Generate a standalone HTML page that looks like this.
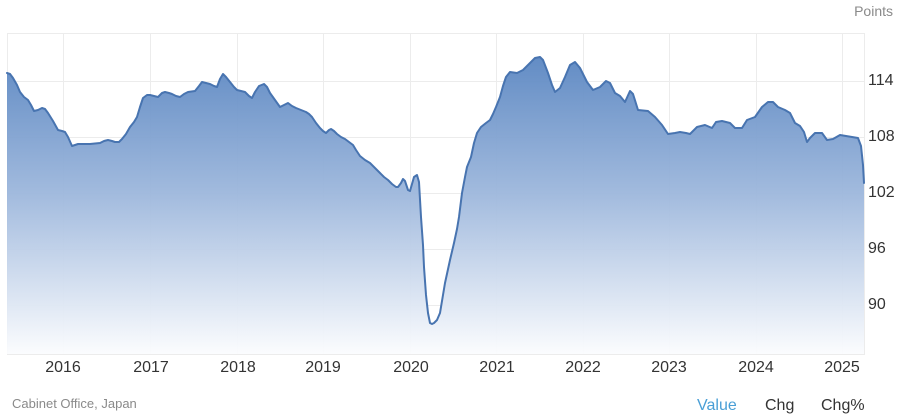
<!DOCTYPE html>
<html>
<head>
<meta charset="utf-8">
<style>
  html, body { margin:0; padding:0; background:#fff; }
  body { width:900px; height:420px; overflow:hidden; }
  svg { display:block; }
  text { font-family: "Liberation Sans", Arial, sans-serif; }
</style>
</head>
<body>
<svg width="900" height="420" viewBox="0 0 900 420" xmlns="http://www.w3.org/2000/svg">
  <defs>
    <linearGradient id="fill" x1="0" y1="34" x2="0" y2="354" gradientUnits="userSpaceOnUse">
      <stop offset="0" stop-color="#4f7ebd"/>
      <stop offset="0.5" stop-color="#9db7dc"/>
      <stop offset="1" stop-color="#fbfcfe"/>
    </linearGradient>
  </defs>

  <!-- plot border -->
  <rect x="7.5" y="33.5" width="857" height="321" fill="#fff" stroke="#ececec" stroke-width="1"/>

  <!-- horizontal grid -->
  <g stroke="#ececec" stroke-width="1">
    <line x1="7" y1="81.5" x2="864" y2="81.5"/>
    <line x1="7" y1="137.5" x2="864" y2="137.5"/>
    <line x1="7" y1="193.5" x2="864" y2="193.5"/>
    <line x1="7" y1="249.5" x2="864" y2="249.5"/>
    <line x1="7" y1="305.5" x2="864" y2="305.5"/>
  </g>
  <!-- vertical grid -->
  <g stroke="#ececec" stroke-width="1">
    <line x1="63.5" y1="34" x2="63.5" y2="354"/>
    <line x1="150.5" y1="34" x2="150.5" y2="354"/>
    <line x1="237.5" y1="34" x2="237.5" y2="354"/>
    <line x1="323.5" y1="34" x2="323.5" y2="354"/>
    <line x1="410.5" y1="34" x2="410.5" y2="354"/>
    <line x1="496.5" y1="34" x2="496.5" y2="354"/>
    <line x1="583.5" y1="34" x2="583.5" y2="354"/>
    <line x1="669.5" y1="34" x2="669.5" y2="354"/>
    <line x1="756.5" y1="34" x2="756.5" y2="354"/>
    <line x1="842.5" y1="34" x2="842.5" y2="354"/>
  </g>

  <!-- area -->
  <polygon fill="url(#fill)" opacity="0.95" points="7,354 7,73 10,74 13,78 17,85 20,92 24,97 28,100 31,105 34,111 38,110 42,108 45,109 48,113 53,121 58,130 62,131 65,132 68,137 72,146 75,145 78,144 90,144 100,143 104,141 108,140 112,141 115,142 119,142 122,139 126,134 130,127 134,122 137,117 140,107 143,98 147,95 150,95 154,96 158,97 162,93 165,92 169,93 172,94 176,96 180,97 184,94 188,92 195,91 199,86 202,82 206,83 210,84 214,86 217,87 220,79 223,74 226,77 230,82 234,87 237,90 241,91 245,92 249,96 252,98 255,92 259,86 264,84 267,87 270,93 275,100 280,107 284,105 288,103 292,106 296,108 301,110 306,112 309,114 312,117 316,123 320,128 323,131 326,133 329,130 331,129 334,131 337,134 341,137 345,139 349,142 353,145 356,150 360,156 365,160 370,163 375,168 380,173 384,177 388,180 392,184 396,187 398,187 401,183 403,179 405,181 408,190 410,191 412,184 414,177 417,175 419,182 421,217 423,245 424,267 426,295 428,313 430,323 432,324 434,323 437,320 440,313 445,283 450,260 454,243 457,229 459,217 462,193 465,177 467,167 471,157 474,143 477,133 481,127 486,123 490,120 493,114 496,107 500,97 503,86 506,77 510,72 517,73 523,70 528,65 535,58 540,57 543,60 548,73 552,85 555,92 560,88 565,77 570,65 575,62 580,68 587,82 593,90 600,87 606,81 610,83 615,93 620,96 625,102 630,91 633,94 638,110 648,111 655,117 662,125 668,134 675,133 680,132 686,133 690,134 697,127 705,125 712,128 716,122 722,121 730,123 735,128 742,128 747,120 755,117 762,107 768,102 773,102 778,107 785,110 790,113 795,123 800,126 804,132 807,142 810,138 815,133 822,133 827,140 833,139 840,135 846,136 852,137 858,138 861,146 863,165 864,183 864,354"/>

  <!-- line -->
  <polyline fill="none" stroke="#4874b0" stroke-width="2" stroke-linejoin="round" stroke-linecap="round" points="7,73 10,74 13,78 17,85 20,92 24,97 28,100 31,105 34,111 38,110 42,108 45,109 48,113 53,121 58,130 62,131 65,132 68,137 72,146 75,145 78,144 90,144 100,143 104,141 108,140 112,141 115,142 119,142 122,139 126,134 130,127 134,122 137,117 140,107 143,98 147,95 150,95 154,96 158,97 162,93 165,92 169,93 172,94 176,96 180,97 184,94 188,92 195,91 199,86 202,82 206,83 210,84 214,86 217,87 220,79 223,74 226,77 230,82 234,87 237,90 241,91 245,92 249,96 252,98 255,92 259,86 264,84 267,87 270,93 275,100 280,107 284,105 288,103 292,106 296,108 301,110 306,112 309,114 312,117 316,123 320,128 323,131 326,133 329,130 331,129 334,131 337,134 341,137 345,139 349,142 353,145 356,150 360,156 365,160 370,163 375,168 380,173 384,177 388,180 392,184 396,187 398,187 401,183 403,179 405,181 408,190 410,191 412,184 414,177 417,175 419,182 421,217 423,245 424,267 426,295 428,313 430,323 432,324 434,323 437,320 440,313 445,283 450,260 454,243 457,229 459,217 462,193 465,177 467,167 471,157 474,143 477,133 481,127 486,123 490,120 493,114 496,107 500,97 503,86 506,77 510,72 517,73 523,70 528,65 535,58 540,57 543,60 548,73 552,85 555,92 560,88 565,77 570,65 575,62 580,68 587,82 593,90 600,87 606,81 610,83 615,93 620,96 625,102 630,91 633,94 638,110 648,111 655,117 662,125 668,134 675,133 680,132 686,133 690,134 697,127 705,125 712,128 716,122 722,121 730,123 735,128 742,128 747,120 755,117 762,107 768,102 773,102 778,107 785,110 790,113 795,123 800,126 804,132 807,142 810,138 815,133 822,133 827,140 833,139 840,135 846,136 852,137 858,138 861,146 863,165 864,183"/>

  <!-- units -->
  <text x="893" y="16" font-size="14" fill="#8a8a8a" text-anchor="end">Points</text>

  <!-- y labels -->
  <g font-size="16" fill="#333">
    <text x="868" y="85">114</text>
    <text x="868" y="141">108</text>
    <text x="868" y="197">102</text>
    <text x="868" y="253">96</text>
    <text x="868" y="309">90</text>
  </g>

  <!-- x labels -->
  <g font-size="16" fill="#333" text-anchor="middle">
    <text x="63" y="372">2016</text>
    <text x="151" y="372">2017</text>
    <text x="238" y="372">2018</text>
    <text x="323" y="372">2019</text>
    <text x="411" y="372">2020</text>
    <text x="497" y="372">2021</text>
    <text x="583" y="372">2022</text>
    <text x="669" y="372">2023</text>
    <text x="756" y="372">2024</text>
    <text x="842" y="372">2025</text>
  </g>

  <!-- footer -->
  <text x="12" y="408" font-size="13" fill="#8a8a8a">Cabinet Office, Japan</text>
  <text x="697" y="410" font-size="16" fill="#4a9fd6">Value</text>
  <text x="765" y="410" font-size="16" fill="#333">Chg</text>
  <text x="821" y="410" font-size="16" fill="#333">Chg%</text>
</svg>
</body>
</html>
